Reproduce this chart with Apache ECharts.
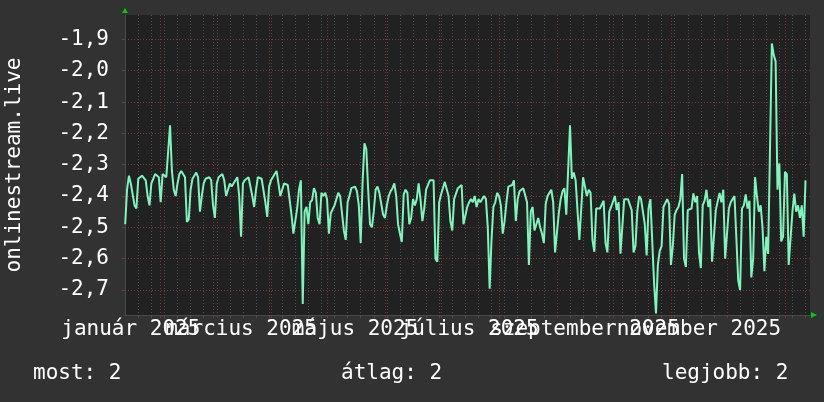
<!DOCTYPE html>
<html><head><meta charset="utf-8">
<script src="https://cdn.jsdelivr.net/npm/echarts@6/dist/echarts.min.js"></script>
<style>html,body{margin:0;padding:0;background:#323232;}#c{width:824px;height:402px;}</style>
</head><body><div id="c"></div>
<script>
// day index: 0 = 1 Jan 2025; first value is 13 Jan 2025
const firstDay = 12;
const jan2025 = [-2.49,-2.38,-2.335,-2.36,-2.36,-2.43,-2.44,-2.345,-2.34,-2.335,-2.34,-2.35,-2.40,-2.43,-2.36,-2.345,-2.33,-2.335,-2.34];
const feb2025 = [-2.42,-2.33,-2.33,-2.34,-2.335,-2.174,-2.32,-2.38,-2.40,-2.36,-2.33,-2.32,-2.325,-2.34,-2.483,-2.475,-2.38,-2.345,-2.335,-2.325,-2.34,-2.45,-2.40,-2.36,-2.345,-2.34,-2.34,-2.35];
const mar2025 = [-2.43,-2.47,-2.36,-2.34,-2.335,-2.33,-2.35,-2.40,-2.40,-2.36,-2.37,-2.37,-2.35,-2.34,-2.40,-2.53,-2.36,-2.35,-2.345,-2.34,-2.345,-2.40,-2.435,-2.38,-2.34,-2.345,-2.345,-2.35,-2.42,-2.467,-2.37];
const apr2025 = [-2.35,-2.34,-2.33,-2.32,-2.36,-2.40,-2.40,-2.36,-2.36,-2.365,-2.37,-2.46,-2.52,-2.48,-2.44,-2.38,-2.35,-2.745,-2.45,-2.435,-2.49,-2.42,-2.413,-2.375,-2.39,-2.47,-2.49,-2.39,-2.40,-2.39];
const may2025 = [-2.41,-2.52,-2.455,-2.45,-2.43,-2.41,-2.39,-2.40,-2.40,-2.51,-2.54,-2.42,-2.40,-2.375,-2.38,-2.37,-2.385,-2.43,-2.55,-2.36,-2.232,-2.25,-2.38,-2.49,-2.50,-2.45,-2.38,-2.37,-2.39,-2.39,-2.46];
const jun2025 = [-2.47,-2.43,-2.40,-2.385,-2.375,-2.36,-2.40,-2.49,-2.52,-2.547,-2.395,-2.38,-2.39,-2.49,-2.47,-2.41,-2.43,-2.41,-2.36,-2.41,-2.48,-2.44,-2.38,-2.375,-2.35,-2.355,-2.35,-2.60,-2.61,-2.42];
const jul2025 = [-2.395,-2.375,-2.355,-2.35,-2.40,-2.48,-2.51,-2.41,-2.41,-2.375,-2.37,-2.365,-2.49,-2.49,-2.435,-2.42,-2.41,-2.42,-2.40,-2.435,-2.41,-2.42,-2.41,-2.40,-2.41,-2.50,-2.696,-2.54,-2.435,-2.42,-2.39];
const aug2025 = [-2.40,-2.43,-2.52,-2.48,-2.42,-2.37,-2.375,-2.365,-2.35,-2.48,-2.41,-2.385,-2.38,-2.375,-2.375,-2.42,-2.62,-2.45,-2.435,-2.51,-2.49,-2.47,-2.50,-2.52,-2.55,-2.425,-2.40,-2.39,-2.38,-2.42,-2.58];
const sep2025 = [-2.58,-2.455,-2.41,-2.385,-2.375,-2.46,-2.46,-2.174,-2.345,-2.325,-2.35,-2.35,-2.54,-2.54,-2.34,-2.37,-2.40,-2.38,-2.39,-2.54,-2.578,-2.44,-2.435,-2.44,-2.44,-2.415,-2.55,-2.58,-2.45,-2.435];
const oct2025 = [-2.435,-2.40,-2.445,-2.42,-2.584,-2.584,-2.41,-2.405,-2.41,-2.415,-2.445,-2.58,-2.56,-2.45,-2.40,-2.41,-2.41,-2.49,-2.59,-2.44,-2.41,-2.405,-2.68,-2.775,-2.62,-2.575,-2.56,-2.435,-2.43,-2.41,-2.425];
const nov2025 = [-2.62,-2.56,-2.46,-2.445,-2.435,-2.41,-2.33,-2.60,-2.627,-2.445,-2.445,-2.44,-2.392,-2.42,-2.40,-2.58,-2.63,-2.43,-2.415,-2.38,-2.435,-2.41,-2.61,-2.53,-2.445,-2.44,-2.39,-2.42,-2.38,-2.60];
const dec2025 = [-2.60,-2.44,-2.42,-2.41,-2.40,-2.40,-2.67,-2.70,-2.44,-2.43,-2.395,-2.44,-2.415,-2.66,-2.60,-2.34,-2.40,-2.45,-2.43,-2.50,-2.64,-2.53,-2.585,-2.59,-1.913,-1.95,-1.97,-2.38,-2.296,-2.545,-2.53];
const jan2026 = [-2.323,-2.33,-2.62,-2.625,-2.45,-2.392,-2.45,-2.43,-2.47,-2.43,-2.53,-2.35];

const monthStarts = [31,59,90,120,151,181,212,243,273,304,334,365];
const labelDays = [15,74,135,196,258,319];
const labelTexts = ['január 2025','március 2025','május 2025','július 2025','szeptember 2025','november 2025'];
const yTicks = [-2.7,-2.6,-2.5,-2.4,-2.3,-2.2,-2.1,-2.0,-1.9];
const legendTexts = ['most: 2','átlag: 2','legjobb: 2'];
const xMin = 11.9, xMax = 378.4, yMin = -2.78, yMax = -1.822;

const values = [].concat(jan2025,feb2025,mar2025,apr2025,may2025,jun2025,jul2025,aug2025,sep2025,oct2025,nov2025,dec2025,jan2026);
const data = values.map((v,i)=>[firstDay+i, v]);
const weekly = [];
for (let d = 19; d <= xMax; d += 7) weekly.push(d);

const FONT = 'DejaVu Sans Mono';
const RED = '#7a3535';
const GRAY = '#4e4e4e';

function labelAxis(days) {
  return {type:'value', min:xMin, max:xMax, position:'bottom',
    axisLine:{show:false}, axisTick:{show:false}, splitLine:{show:false},
    axisLabel:{show:true, customValues:days, margin:4, color:'#ffffff',
      fontFamily:FONT, fontSize:21, showMinLabel:true, showMaxLabel:true, hideOverlap:false,
      formatter:(v)=>{const i=labelDays.indexOf(Math.round(v)); return i>=0?labelTexts[i]:'';}}};
}

const chart = echarts.init(document.getElementById('c'), null, {renderer:'canvas'});
chart.setOption({
  backgroundColor: '#323232',
  animation: false,
  grid: {left:125, right:14, top:15, bottom:87, show:true, backgroundColor:'#212121', borderWidth:0,
         containLabel:false, outerBoundsMode:'none'},
  xAxis: [
    {type:'value', min:xMin, max:xMax, position:'bottom',
     axisLine:{show:true, lineStyle:{color:'#4a4a4a', width:1}},
     axisTick:{show:true, customValues:weekly, length:3, lineStyle:{color:GRAY}},
     axisLabel:{show:false},
     splitLine:{show:true, lineStyle:{color:GRAY, type:[1,2], width:1}}},
    {type:'value', min:xMin, max:xMax, position:'bottom',
     axisLine:{show:false},
     axisTick:{show:true, customValues:monthStarts, length:3, lineStyle:{color:RED}},
     axisLabel:{show:false},
     splitLine:{show:true, lineStyle:{color:RED, type:[1,2], width:1}}},
    labelAxis(labelDays.filter((d,i)=>i%2===0)),
    labelAxis(labelDays.filter((d,i)=>i%2===1))
  ],
  yAxis: {type:'value', min:yMin, max:yMax,
    name:'onlinestream.live', nameLocation:'middle', nameRotate:90, nameGap:100,
    nameTextStyle:{color:'#ffffff', fontFamily:FONT, fontSize:21},
    axisLine:{show:true, lineStyle:{color:'#4a4a4a'}},
    axisTick:{show:true, customValues:yTicks, length:3, lineStyle:{color:RED}},
    axisLabel:{customValues:yTicks, margin:16, color:'#ffffff', fontFamily:FONT, fontSize:21,
      showMinLabel:true, showMaxLabel:true,
      formatter:(v)=>v.toFixed(1).replace('.',',')},
    splitLine:{show:true, lineStyle:{color:RED, type:[1,2], width:1}}},
  series: [{type:'line', data:data, xAxisIndex:0, showSymbol:false, symbol:'none',
    lineStyle:{color:'#7ef5bc', width:2}, z:5}],
  title: legendTexts.map((t,i)=>({text:t, left:[33,341,662][i], top:363, padding:0,
    textStyle:{color:'#ffffff', fontFamily:FONT, fontSize:21, fontWeight:'normal'}})),
  graphic: [
    {type:'polygon', shape:{points:[[122,13],[128,13],[125,8]]}, style:{fill:'#00cc00'}, z:100},
    {type:'polygon', shape:{points:[[811,312],[811,318],[817,315]]}, style:{fill:'#00cc00'}, z:100}
  ]
});
</script></body></html>
